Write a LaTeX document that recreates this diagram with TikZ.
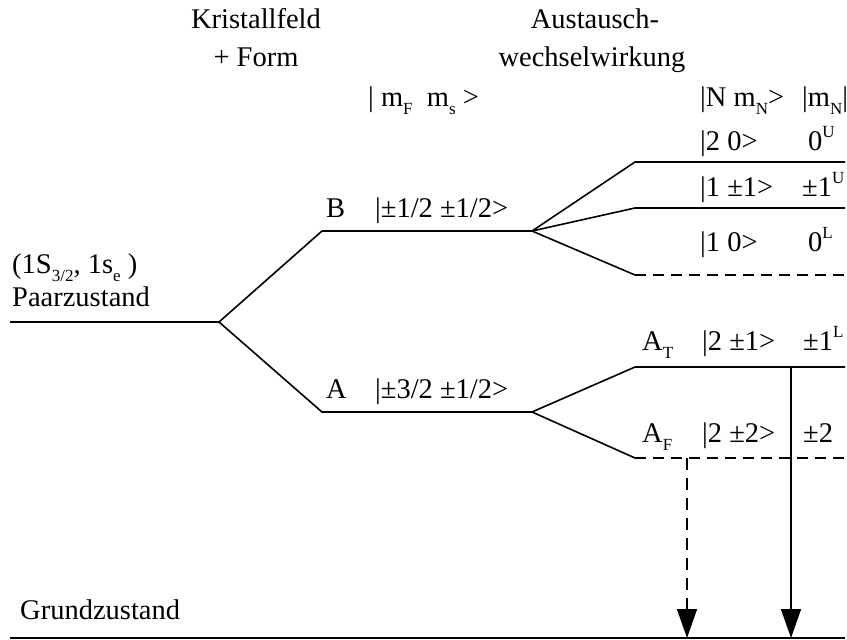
\documentclass[tikz,border=0pt]{standalone}
\usepackage{fontspec}
\setmainfont{Liberation Serif}
\usetikzlibrary{arrows.meta}
\newcommand{\lo}[1]{\raisebox{-0.3em}{\fontsize{17}{17}\selectfont #1}}
\newcommand{\hi}[1]{\raisebox{0.45em}{\fontsize{17}{17}\selectfont #1}}
\begin{document}
\begin{tikzpicture}[x=1pt,y=-1pt,
  lvl/.style={line width=1.6pt},
  dlvl/.style={line width=1.6pt, dash pattern=on 11pt off 7pt},
  lbl/.style={inner sep=0pt, anchor=base west, font=\fontsize{28.5}{34}\selectfont},
  clbl/.style={inner sep=0pt, anchor=base, font=\fontsize{28.5}{34}\selectfont},
  arr/.style={line width=1.6pt, -{Triangle[length=29pt,width=20pt]}}]
\useasboundingbox (0,0) rectangle (847,640);
% level coordinates
\coordinate (p0) at (10,322); \coordinate (p1) at (219,322);
\coordinate (b0) at (322,231); \coordinate (b1) at (532,231);
\coordinate (a0) at (322,412); \coordinate (a1) at (532,412);
\coordinate (u0) at (635,162); \coordinate (u1) at (845,162);
\coordinate (v0) at (635,208); \coordinate (v1) at (845,208);
\coordinate (w0) at (635,275); \coordinate (w1) at (845,275);
\coordinate (t0) at (635,367); \coordinate (t1) at (845,367);
\coordinate (f0) at (635,458); \coordinate (f1) at (845,458);
\coordinate (g0) at (10,638); \coordinate (g1) at (845,638);
\coordinate (ts) at (791,367); \coordinate (te) at (791,638);
\coordinate (fs) at (687,458); \coordinate (fe) at (687,638);
% levels
\draw[lvl] (p0) -- (p1) -- (b0) -- (b1);
\draw[lvl] (p1) -- (a0) -- (a1);
\draw[lvl] (b1) -- (u0) -- (u1);
\draw[lvl] (b1) -- (v0) -- (v1);
\draw[lvl] (b1) -- (w0);
\draw[dlvl] (w0) -- (w1);
\draw[lvl] (a1) -- (t0) -- (t1);
\draw[lvl] (a1) -- (f0);
\draw[dlvl] (f0) -- (f1);
\draw[lvl] (g0) -- (g1);
% transitions
\draw[arr] (ts) -- (te);
\draw[arr, dash pattern=on 12pt off 8pt] (fs) -- (fe);
% headers
\node[clbl] (h1) at (256,28) {Kristallfeld};
\node[clbl] (h2) at (256,66) {+ Form};
\node[clbl] (h3) at (595,28) {Austausch-};
\node[clbl] (h4) at (592,66) {wechselwirkung};
\node[lbl] (h5) at (368,106) {| m\lo{F}\ \ m\lo{s} >};
\node[lbl] (h6) at (700,106) {|N m\lo{N}>};
\node[lbl] (h7) at (802,106) {|m\lo{N}|};
% upper states
\node[lbl] (s1) at (700,150) {|2 0>};
\node[lbl] (s1b) at (808,150) {0\hi{U}};
\node[lbl] (s2) at (700,196) {|1 ±1>};
\node[lbl] (s2b) at (802,196) {±1\hi{U}};
\node[lbl] (s3) at (700,251) {|1 0>};
\node[lbl] (s3b) at (808,251) {0\hi{L}};
% lower states
\node[lbl] (s4a) at (642,350) {A\lo{T}};
\node[lbl] (s4) at (702,350) {|2 ±1>};
\node[lbl] (s4b) at (803,350) {±1\hi{L}};
\node[lbl] (s5a) at (642,442) {A\lo{F}};
\node[lbl] (s5) at (702,442) {|2 ±2>};
\node[lbl] (s5b) at (803,442) {±2};
% middle states
\node[lbl] (bl) at (326,217) {B};
\node[lbl] (bs) at (375,217) {|±1/2 ±1/2>};
\node[lbl] (al) at (326,398) {A};
\node[lbl] (as) at (375,398) {|±3/2 ±1/2>};
% left
\node[lbl] (pz1) at (12,273) {(1S\lo{3/2}, 1s\lo{e} )};
\node[lbl] (pz2) at (12,306) {Paarzustand};
\node[lbl] (gz) at (20,619) {Grundzustand};
\end{tikzpicture}
\end{document}
